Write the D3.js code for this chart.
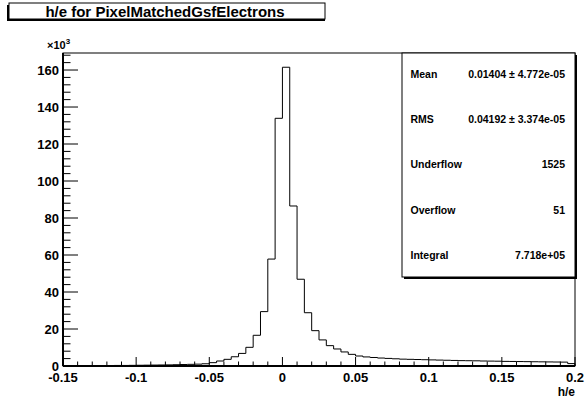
<!DOCTYPE html>
<html>
<head>
<meta charset="utf-8">
<script src="https://cdn.jsdelivr.net/npm/d3@7"></script>
<style>
  body { margin: 0; background: #fff; }
  svg { display: block; font-family: "Liberation Sans", Arial, sans-serif; }
</style>
</head>
<body>
<svg id="chart" width="586" height="398"></svg>
<script>
// histogram h/e, 70 bins of 0.005 from -0.15 to 0.2 (counts in thousands)
const xLow = -0.15;
const binWidth = 0.005;
const counts = [
    0.1, 0.1, 0.15, 0.15, 0.2, 0.2, 0.25, 0.3, 0.3, 0.35,
    0.4, 0.45, 0.5, 0.55, 0.6, 0.7, 0.8, 0.9, 1.0, 1.2,
    1.8, 2.7, 3.6, 5.0, 6.8, 10.1, 16.6, 29.4, 57.8, 133.9,
    161.5, 86.5, 46.9, 28.8, 19.1, 14.1, 11.0, 9.2, 7.6, 6.3,
    5.4, 4.9, 4.6, 4.3, 4.1, 3.9, 3.7, 3.6, 3.5, 3.4,
    3.3, 3.2, 3.1, 3.0, 2.9, 2.85, 2.8, 2.7, 2.65, 2.6,
    2.5, 2.45, 2.4, 2.35, 2.3, 2.25, 2.2, 2.15, 2.1, 1.3
];
const xTicks = [-0.15, -0.1, -0.05, 0, 0.05, 0.1, 0.15, 0.2];
const xTickLabels = ["-0.15", "-0.1", "-0.05", "0", "0.05", "0.1", "0.15", "0.2"];
const yTicks = [0, 20, 40, 60, 80, 100, 120, 140, 160];
const statNames = ["Mean", "RMS", "Underflow", "Overflow", "Integral"];
const statValues = ["0.01404 \u00b1 4.772e-05", "0.04192 \u00b1 3.374e-05", "1525", "51", "7.718e+05"];
const title = "h/e for PixelMatchedGsfElectrons";

const svg = d3.select('#chart');
const padL = 63, padR = 575, padT = 53, padB = 366;

const x = d3.scaleLinear().domain([-0.15, 0.2]).range([padL, padR]);
const y = d3.scaleLinear().domain([0, 169.2]).range([padB, padT]);

// title box with shadow
svg.append('rect').attr('x', 7).attr('y', 5).attr('width', 318).attr('height', 16).attr('fill', '#000');
svg.append('rect').attr('x', 9).attr('y', 3).attr('width', 316).attr('height', 16)
    .attr('fill', '#fff').attr('stroke', '#000').attr('stroke-width', 1);
svg.append('text').attr('x', 165).attr('y', 16.5).attr('text-anchor', 'middle')
    .attr('font-size', '15px').attr('font-weight', 'bold').text(title);

// histogram outline
const pts = [[x(xLow), y(0)]];
counts.forEach(function (c, i) {
    const lo = xLow + i * binWidth;
    pts.push([x(lo), y(c)]);
    pts.push([x(lo + binWidth), y(c)]);
});
pts.push([x(xLow + counts.length * binWidth), y(0)]);
svg.append('path')
    .attr('d', d3.line()(pts))
    .attr('fill', 'none')
    .attr('stroke', '#000')
    .attr('stroke-width', 1);

// frame
svg.append('rect').attr('x', padL).attr('y', padT).attr('width', padR - padL).attr('height', padB - padT)
    .attr('fill', 'none').attr('stroke', '#000').attr('stroke-width', 1);

// y axis
const yAxis = svg.append('g');
yAxis.append('line').attr('x1', padL).attr('x2', padL).attr('y1', padT).attr('y2', padB)
    .attr('stroke', '#000').attr('stroke-width', 2);
d3.range(0, 169, 4).forEach(function (v) {
    const major = v % 20 === 0;
    yAxis.append('line').attr('x1', padL).attr('x2', padL + (major ? 15 : 7.5))
        .attr('y1', y(v)).attr('y2', y(v)).attr('stroke', '#000').attr('stroke-width', 1);
});
yAxis.selectAll('text.tl').data(yTicks).enter().append('text')
    .attr('x', padL - 4).attr('y', function (d) { return y(d) + 4.5; })
    .attr('text-anchor', 'end').attr('font-size', '13px').attr('font-weight', 'bold')
    .text(function (d) { return d; });
const mult = yAxis.append('text').attr('x', 47).attr('y', 49).attr('font-size', '11px').attr('font-weight', 'bold');
mult.append('tspan').text('\u00d710');
mult.append('tspan').attr('dy', -5).attr('font-size', '8px').text('3');

// x axis
const xAxis = svg.append('g');
xAxis.append('line').attr('x1', padL).attr('x2', padR).attr('y1', padB).attr('y2', padB)
    .attr('stroke', '#000').attr('stroke-width', 2);
d3.range(0, 36).forEach(function (i) {
    const v = -0.15 + i * 0.01;
    const major = i % 5 === 0;
    xAxis.append('line').attr('x1', x(v)).attr('x2', x(v))
        .attr('y1', padB).attr('y2', padB - (major ? 9 : 4.5))
        .attr('stroke', '#000').attr('stroke-width', 1);
});
xAxis.selectAll('text.tl').data(xTicks).enter().append('text')
    .attr('x', function (d) { return x(d); }).attr('y', 382)
    .attr('text-anchor', 'middle').attr('font-size', '13px').attr('font-weight', 'bold')
    .text(function (d, i) { return xTickLabels[i]; });
svg.append('text').attr('x', 575).attr('y', 396).attr('text-anchor', 'end')
    .attr('font-size', '12px').attr('font-weight', 'bold').text('h/e');

// stats box
const sx = 402, sy = 53, sw = 173, sh = 224;
svg.append('rect').attr('x', sx + 2).attr('y', sy + 2).attr('width', sw).attr('height', sh).attr('fill', '#000');
svg.append('rect').attr('x', sx).attr('y', sy).attr('width', sw).attr('height', sh)
    .attr('fill', '#fff').attr('stroke', '#000').attr('stroke-width', 1);
statNames.forEach(function (n, i) {
    const ty = 77.5 + i * 45.4;
    svg.append('text').attr('x', 410.5).attr('y', ty).attr('font-size', '10.5px').attr('font-weight', 'bold').text(n);
    svg.append('text').attr('x', 565).attr('y', ty).attr('text-anchor', 'end')
        .attr('font-size', '10.5px').attr('font-weight', 'bold').text(statValues[i]);
});
</script>
</body>
</html>
